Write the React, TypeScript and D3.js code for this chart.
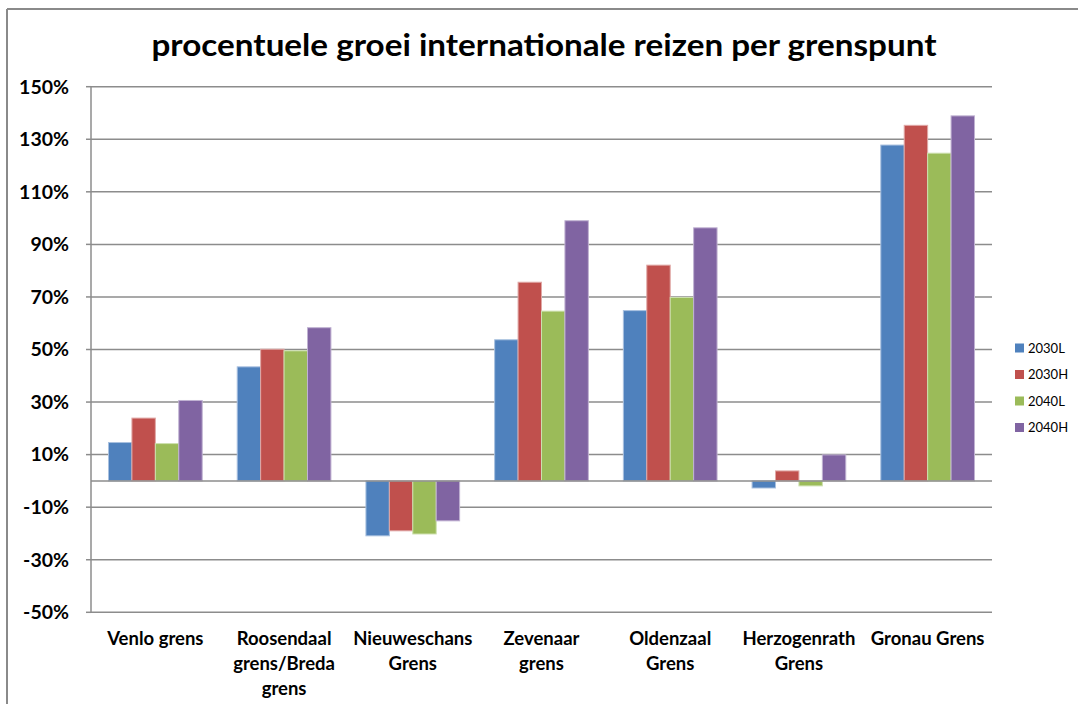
import React from "react";
import * as d3 from "d3";

const categories = [
  ["Venlo grens"],
  ["Roosendaal", "grens/Breda", "grens"],
  ["Nieuweschans", "Grens"],
  ["Zevenaar", "grens"],
  ["Oldenzaal", "Grens"],
  ["Herzogenrath", "Grens"],
  ["Gronau Grens"],
];
const seriesNames = ["2030L", "2030H", "2040L", "2040H"];
const s2030L = [14.6, 43.4, -20.9, 53.7, 64.8, -2.7, 127.8];
const s2030H = [23.9, 50.1, -19.0, 75.6, 82.1, 3.8, 135.3];
const s2040L = [14.2, 49.5, -20.2, 64.6, 69.8, -1.9, 124.7];
const s2040H = [30.6, 58.3, -15.2, 99.0, 96.3, 9.9, 138.9];
const yTicks = [150, 130, 110, 90, 70, 50, 30, 10, -10, -30, -50];
const colors = ["#4F81BD", "#C0504D", "#9BBB59", "#8064A2"];
const strokes = ["#a8c0df", "#e0a8a6", "#cde0ae", "#c0b2d2"];

export default function App() {
  const W = 1078, H = 704;
  const left = 91, right = 992, top = 86.7, bottom = 612.3;
  const series = [s2030L, s2030H, s2040L, s2040H];
  const idx = categories.map((_, i) => String(i));
  const x0 = d3.scaleBand().domain(idx).range([left, right]).paddingInner(0.272).paddingOuter(0.136);
  const x1 = d3.scaleBand().domain(seriesNames).range([0, x0.bandwidth()]);
  const y = d3.scaleLinear().domain([-50, 150]).range([bottom, top]);
  const font = "Lato, 'Open Sans', sans-serif";
  return (
    <svg width={W} height={H} style={{ position: "absolute", left: 0, top: 0, background: "#fff" }} fontFamily={font}>
      <rect x={0} y={0} width={W} height={H} fill="#fff" />
      <line x1={7} y1={9} x2={W} y2={9} stroke="#8a8a8a" strokeWidth={2} />
      <line x1={7} y1={9} x2={7} y2={H} stroke="#8a8a8a" strokeWidth={2} />
      <text x={544} y={56} textAnchor="middle" fontSize={31} fontWeight="bold" fill="#000" textLength={785} lengthAdjust="spacingAndGlyphs">
        procentuele groei internationale reizen per grenspunt
      </text>
      {yTicks.map((t) => (
        <g key={t}>
          <line x1={left} x2={right} y1={y(t)} y2={y(t)} stroke="#8c8c8c" strokeWidth={1.5} />
          <line x1={left - 5} x2={left} y1={y(t)} y2={y(t)} stroke="#8c8c8c" strokeWidth={1.5} />
          <text x={69} y={y(t)} dy="0.35em" textAnchor="end" fontSize={19.5} fontWeight="bold" fill="#000">
            {t}%
          </text>
        </g>
      ))}
      <line x1={left} x2={left} y1={top} y2={bottom} stroke="#8c8c8c" strokeWidth={1.5} />
      {categories.map((c, i) =>
        series.map((s, k) => {
          const v = s[i];
          const bx = (x0(String(i)) as number) + (x1(seriesNames[k]) as number);
          const y0 = y(0), yv = y(v);
          return (
            <rect key={`${i}-${k}`} x={bx} y={Math.min(y0, yv)} width={x1.bandwidth()} height={Math.abs(yv - y0)}
              fill={colors[k]} stroke={strokes[k]} strokeWidth={1} />
          );
        })
      )}
      <line x1={left} x2={right} y1={y(0)} y2={y(0)} stroke="#8c8c8c" strokeWidth={1.5} />
      {categories.map((c, i) => {
        const cx = (x0(String(i)) as number) + x0.bandwidth() / 2;
        return (
          <text key={i} x={cx} y={645} textAnchor="middle" fontSize={18.5} fontWeight="bold" fill="#000">
            {c.map((ln, j) => (
              <tspan key={j} x={cx} dy={j === 0 ? 0 : 25}>{ln}</tspan>
            ))}
          </text>
        );
      })}
      {seriesNames.map((n, k) => (
        <g key={n} transform={`translate(1015, ${348 + k * 26.5})`}>
          <rect x={0} y={-4.5} width={9} height={9} fill={colors[k]} />
          <text x={13} y={0} dy="0.35em" fontSize={13} fill="#000">{n}</text>
        </g>
      ))}
    </svg>
  );
}
